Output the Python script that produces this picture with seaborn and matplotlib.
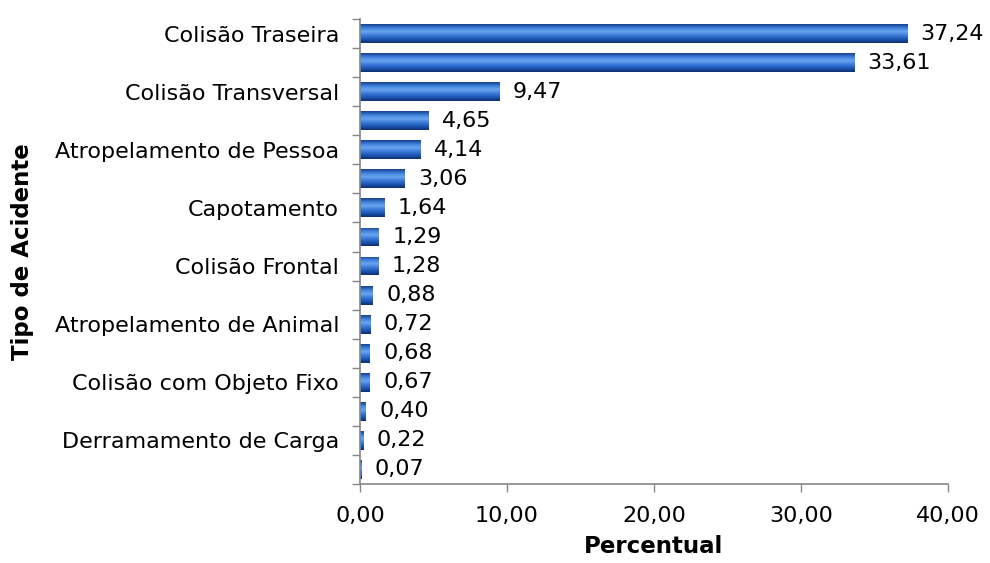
import seaborn as sns
import matplotlib.pyplot as plt
import numpy as np
import pandas as pd
from matplotlib.colors import LinearSegmentedColormap

# dados (percentual por tipo de acidente)
tipos = ['Colisão Traseira', 'Saída de Pista', 'Colisão Transversal', 'Colisão Lateral',
         'Atropelamento de Pessoa', 'Queda de Veículo', 'Capotamento', 'Tombamento',
         'Colisão Frontal', 'Colisão com Bicicleta', 'Atropelamento de Animal', 'Danos Eventuais',
         'Colisão com Objeto Fixo', 'Colisão com Objeto Móvel', 'Derramamento de Carga', 'Incêndio']
percentual = [37.24, 33.61, 9.47, 4.65, 4.14, 3.06, 1.64, 1.29,
              1.28, 0.88, 0.72, 0.68, 0.67, 0.40, 0.22, 0.07]
x_ticks = [0, 10, 20, 30, 40]

df = pd.DataFrame({'tipo': tipos, 'percentual': percentual})

sns.set_theme(style='white')
plt.rcParams['font.family'] = ['DejaVu Sans']
plt.rcParams['text.color'] = 'black'
plt.rcParams['axes.labelcolor'] = 'black'
plt.rcParams['xtick.color'] = 'black'
plt.rcParams['ytick.color'] = 'black'

fig = plt.figure(figsize=(9.9, 5.63), dpi=100)
ax = fig.add_axes([0.3636, 0.1403, 0.5940, 0.8259])

sns.barplot(data=df, x='percentual', y='tipo', order=tipos, orient='h',
            width=0.65, color='#1f5fbf', ax=ax)

# gradiente vertical tipo "cilindro" do Excel
cmap = LinearSegmentedColormap.from_list(
    'excel_blue', ['#173f8a', '#3d80dd', '#6aa6ee', '#3b7bd8', '#1d56b4', '#0d2f6e'])
grad = np.linspace(0, 1, 64).reshape(-1, 1)
for p in list(ax.patches):
    x0, y0 = p.get_x(), p.get_y()
    w, h = p.get_width(), p.get_height()
    im = ax.imshow(grad, cmap=cmap, aspect='auto', extent=(x0, x0 + w, y0 + h, y0),
                   origin='upper', zorder=2, interpolation='bicubic')
    im.set_clip_path(p)
    p.set_facecolor('none')
    p.set_edgecolor('none')

ax.set_xlim(0, 40)
ax.set_ylim(len(tipos) - 0.5, -0.5)

# rótulos de valor
for i, v in enumerate(percentual):
    ax.text(v + 0.9, i, f'{v:.2f}'.replace('.', ','), va='center', ha='left',
            fontsize=16, color='black', zorder=3,
            bbox=dict(facecolor='white', edgecolor='none', pad=0.5))

# eixo x
ax.set_xticks(x_ticks)
ax.set_xticklabels([f'{t:.2f}'.replace('.', ',') for t in x_ticks], fontsize=16)

# eixo y: marcas entre categorias, rótulos em categorias alternadas
ax.set_yticks(np.arange(-0.5, len(tipos), 1.0))
ax.set_yticklabels([])
ax.set_yticks(np.arange(0, len(tipos), 2), minor=True)
ax.set_yticklabels(tipos[::2], minor=True, fontsize=16)
ax.tick_params(axis='y', which='minor', left=False, length=0, pad=15)
ax.tick_params(axis='y', which='major', left=True, length=6, color='#868686',
               width=1, direction='out')
ax.tick_params(axis='x', which='major', bottom=True, length=6, color='#868686',
               width=1, direction='out', pad=10)

for side in ['top', 'right']:
    ax.spines[side].set_visible(False)
for side in ['left', 'bottom']:
    ax.spines[side].set_color('#868686')
    ax.spines[side].set_linewidth(1.2)

ax.set_xlabel('Percentual', fontsize=16.5, fontweight='bold', labelpad=6)
ax.set_ylabel('Tipo de Acidente', fontsize=16.5, fontweight='bold')
ax.yaxis.set_label_coords(-0.555, 0.5)

plt.savefig('out.png', dpi=100)
plt.close()
